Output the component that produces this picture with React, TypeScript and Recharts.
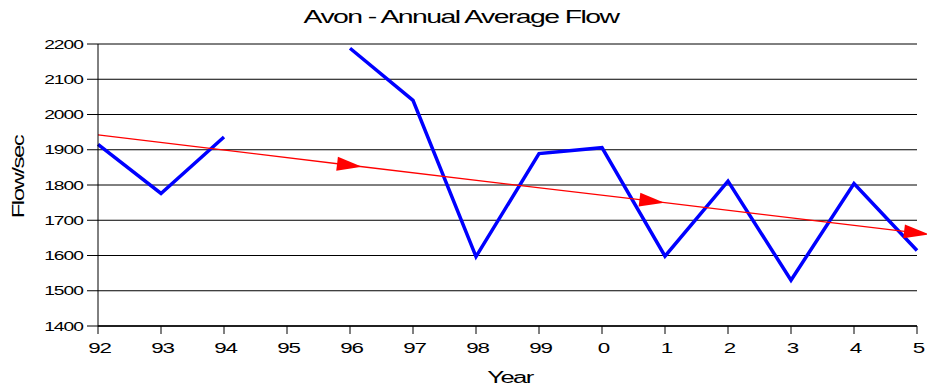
import { LineChart, Line, XAxis, YAxis, CartesianGrid } from 'recharts';

// year labels for each slot on the x axis (0 = 92 ... 13 = 5)
const years = ['92', '93', '94', '95', '96', '97', '98', '99', '0', '1', '2', '3', '4', '5'];

// annual average flow, 95 missing
const flow = [1915, 1776, 1936, null, 2188, 2040, 1597, 1889, 1906, 1598, 1811, 1530, 1804, 1614];

// hand-drawn trend arrow: slot position and level at each arrow head
const trendPos = [0, 4, 8.8, 13];
const trendLevel = [1942, 1856, 1754, 1664];

const yTicks = [1400, 1500, 1600, 1700, 1800, 1900, 2000, 2100, 2200];

const FONT = '"Liberation Sans", Arial, sans-serif';

const flowData = years.map((_, i) => ({ x: i, y: flow[i] }));
const trendData = trendPos.map((x, i) => ({ x, y: trendLevel[i] }));

// old spreadsheet look: wide, squashed-together glyphs
const WideText = ({ x, y, size, anchor = 'middle', spacing = -0.7, sx = 1.6, rotate = 0, children }: any) => (
  <text
    transform={`translate(${x},${y}) rotate(${rotate}) scale(${sx},1)`}
    textAnchor={anchor}
    fontFamily={FONT}
    fontSize={size}
    letterSpacing={spacing}
    fill="#000"
  >
    {children}
  </text>
);

const XTick = ({ x, payload }: any) => (
  <WideText x={x + 1.5} y={353} size={14}>
    {years[payload.value]}
  </WideText>
);

const YTick = ({ x, y, payload }: any) => (
  <WideText x={x} y={y + 4.5} size={12} anchor="end" spacing={-0.6}>
    {payload.value}
  </WideText>
);

export default function App() {
  return (
    <div style={{ position: 'fixed', left: 0, top: 0, width: 927, height: 387, background: '#fff' }}>
      <svg width={0} height={0} style={{ position: 'absolute' }}>
        <defs>
          <marker
            id="trendArrow"
            markerUnits="userSpaceOnUse"
            markerWidth={30}
            markerHeight={18}
            refX={13}
            refY={8}
            orient="auto"
            overflow="visible"
          >
            <path d="M0,1 L25,8 L0,15 Z" fill="#ff0000" />
          </marker>
        </defs>
      </svg>
      <svg width={927} height={387} style={{ position: 'absolute', left: 0, top: 0, pointerEvents: 'none' }}>
        <WideText x={461} y={23} size={18} spacing={-1} sx={1.58}>
          Avon - Annual Average Flow
        </WideText>
        <WideText x={24} y={177} size={16} spacing={-1} sx={1.5} rotate={-90}>
          Flow/sec
        </WideText>
        <WideText x={510} y={383} size={16} spacing={-1} sx={1.6}>
          Year
        </WideText>
      </svg>
      <LineChart
        width={927}
        height={387}
        margin={{ top: 44, right: 10, left: 0, bottom: 31 }}
        style={{ position: 'absolute', left: 0, top: 0 }}
      >
        <CartesianGrid vertical={false} stroke="#000" strokeWidth={1} />
        <XAxis
          type="number"
          dataKey="x"
          domain={[0, 13]}
          ticks={years.map((_, i) => i)}
          interval={0}
          height={30}
          tickSize={8}
          axisLine={{ stroke: '#000', strokeWidth: 1.5 }}
          tickLine={{ stroke: '#000' }}
          tick={<XTick />}
        />
        <YAxis
          domain={[1400, 2200]}
          ticks={yTicks}
          interval={0}
          width={98}
          tickSize={11}
          tickMargin={4}
          axisLine={{ stroke: '#000' }}
          tickLine={{ stroke: '#000' }}
          tick={<YTick />}
        />
        <Line
          data={flowData}
          dataKey="y"
          type="linear"
          stroke="#0000ff"
          strokeWidth={3.5}
          dot={false}
          activeDot={false}
          isAnimationActive={false}
        />
        <Line
          data={trendData}
          dataKey="y"
          type="linear"
          stroke="#ff0000"
          strokeWidth={1.3}
          dot={false}
          activeDot={false}
          markerMid="url(#trendArrow)"
          markerEnd="url(#trendArrow)"
          isAnimationActive={false}
        />
      </LineChart>
    </div>
  );
}
